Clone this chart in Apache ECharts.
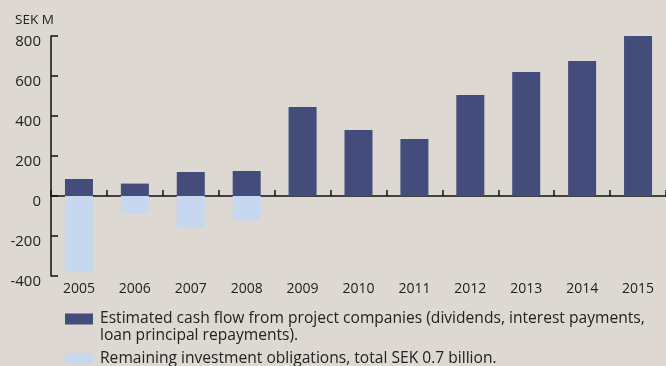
<!DOCTYPE html>
<html>
<head>
<meta charset="utf-8">
<script src="https://cdn.jsdelivr.net/npm/echarts@6/dist/echarts.min.js"></script>
<style>
html,body{margin:0;padding:0;background:#ddd8d1;}
#c{width:666px;height:366px;}
</style>
</head>
<body>
<div id="c"></div>
<script>
var categories = ['2005','2006','2007','2008','2009','2010','2011','2012','2013','2014','2015'];
var cashFlow = [85, 62, 120, 125, 445, 330, 285, 505, 620, 675, 805];
var obligations = [-380, -88, -158, -122, null, null, null, null, null, null, null];
var yTicks = {min: -400, max: 800, interval: 200};
var seriesNames = ['Estimated cash flow from project companies (dividends, interest payments,\nloan principal repayments).', 'Remaining investment obligations, total SEK 0.7 billion.'];
var unitLabel = 'SEK M';

var chart = echarts.init(document.getElementById('c'), null, {renderer: 'canvas'});
var font = 'Open Sans';
// legend icons: 28x11 swatch placed inside a 30x34 box (invisible corner points fix the box)
var iconTop = 'path://M0,3H28V14H0Z M0,0L0.01,0 M30,34L30.01,34';
var iconMid = 'path://M0,11.5H28V22.5H0Z M0,0L0.01,0 M30,34L30.01,34';
chart.setOption({
  backgroundColor: '#ddd8d1',
  animation: false,
  title: {
    text: unitLabel, left: 15, top: 13, padding: 0,
    textStyle: {fontFamily: font, fontSize: 13.5, fontWeight: 'normal', color: '#222'}
  },
  grid: {left: 51, right: -8, top: 36, bottom: 90, containLabel: false},
  legend: {
    orient: 'vertical', left: 65, top: 310.5, width: 600, height: 120, padding: 0,
    itemWidth: 30, itemHeight: 34, itemGap: -3,
    selectedMode: false,
    textStyle: {fontFamily: font, fontSize: 15.6, color: '#222', lineHeight: 17},
    data: [{name: seriesNames[0], icon: iconTop}, {name: seriesNames[1], icon: iconMid}]
  },
  xAxis: [{
    type: 'category', data: categories, position: 'bottom',
    axisLine: {onZero: true, lineStyle: {color: '#111', width: 1.5}},
    axisTick: {show: true, inside: true, length: 6, lineStyle: {color: '#111', width: 1.5}},
    axisLabel: {show: false}
  }, {
    type: 'category', data: categories, position: 'bottom',
    axisLine: {show: false, onZero: false}, axisTick: {show: false},
    axisLabel: {fontFamily: font, fontSize: 14, color: '#222', margin: 6}
  }],
  yAxis: {
    type: 'value', min: yTicks.min, max: yTicks.max, interval: yTicks.interval,
    splitLine: {show: false},
    axisLine: {show: true, lineStyle: {color: '#111', width: 1.5}},
    axisTick: {show: true, inside: true, length: 7, lineStyle: {color: '#111', width: 1.5}},
    axisLabel: {fontFamily: font, fontSize: 15, color: '#222', margin: 10, verticalAlign: 'top', lineHeight: 11}
  },
  series: [{
    name: seriesNames[0], type: 'bar', stack: 's', barWidth: 28,
    itemStyle: {color: '#434c7b'}, data: cashFlow
  }, {
    name: seriesNames[1], type: 'bar', stack: 's', barWidth: 28,
    itemStyle: {color: '#c5d8ef'}, data: obligations
  }]
});
</script>
</body>
</html>
